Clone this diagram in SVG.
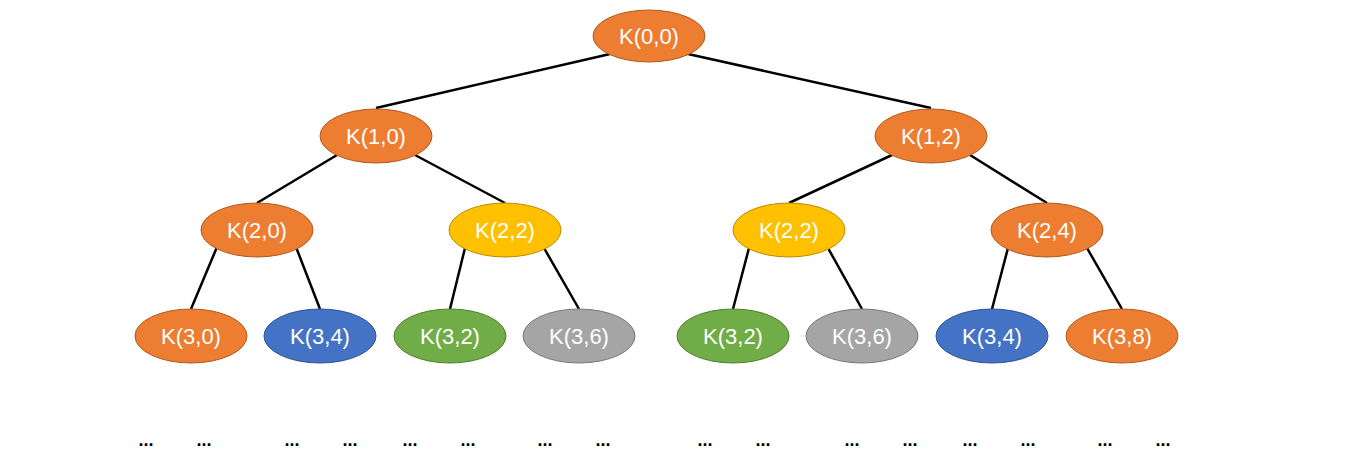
<svg xmlns="http://www.w3.org/2000/svg" width="1352" height="470" viewBox="0 0 1352 470">
<style>
.o{fill:#ED7D31;stroke:#AE5A21;stroke-width:1}
.y{fill:#FFC000;stroke:#BC8C00;stroke-width:1}
.b{fill:#4472C4;stroke:#2F528F;stroke-width:1}
.g{fill:#70AD47;stroke:#507E32;stroke-width:1}
.s{fill:#A5A5A5;stroke:#787878;stroke-width:1}
.t{fill:#fff;font-family:"Liberation Sans",Arial,sans-serif;font-size:22px;text-anchor:middle;dominant-baseline:central}
.d{fill:#000;font-family:"Liberation Sans",sans-serif;font-size:18px;font-weight:bold;text-anchor:middle}
#edges line{stroke:#000;stroke-width:2.5}
</style>
<rect width="1352" height="470" fill="#fff"/>
<g id="edges">
<line x1="610" y1="54" x2="376" y2="108"/>
<line x1="688" y1="54" x2="931" y2="108"/>
<line x1="337" y1="155" x2="257" y2="203"/>
<line x1="415" y1="155" x2="505" y2="203"/>
<line x1="892" y1="155" x2="789" y2="203"/>
<line x1="970" y1="155" x2="1047" y2="203"/>
<line x1="217" y1="247" x2="191" y2="309"/>
<line x1="296" y1="247" x2="320" y2="309"/>
<line x1="465" y1="248" x2="450" y2="309"/>
<line x1="544" y1="248" x2="579" y2="309"/>
<line x1="749" y1="248" x2="733" y2="309"/>
<line x1="828" y1="248" x2="862" y2="309"/>
<line x1="1008" y1="248" x2="992" y2="309"/>
<line x1="1087" y1="248" x2="1122" y2="309"/>
</g>
<g id="n00"><ellipse class="o" cx="649" cy="36" rx="56" ry="26"/><text class="t" x="649" y="36">K(0,0)</text></g>
<g id="n10"><ellipse class="o" cx="376" cy="136" rx="56" ry="27"/><text class="t" x="376" y="136">K(1,0)</text></g>
<g id="n12"><ellipse class="o" cx="931" cy="136" rx="56" ry="27"/><text class="t" x="931" y="136">K(1,2)</text></g>
<g id="n20"><ellipse class="o" cx="257" cy="230" rx="56" ry="27"/><text class="t" x="257" y="230">K(2,0)</text></g>
<g id="n22a"><ellipse class="y" cx="505" cy="230" rx="56" ry="27"/><text class="t" x="505" y="230">K(2,2)</text></g>
<g id="n22b"><ellipse class="y" cx="789" cy="230" rx="56" ry="27"/><text class="t" x="789" y="230">K(2,2)</text></g>
<g id="n24"><ellipse class="o" cx="1047" cy="230" rx="56" ry="27"/><text class="t" x="1047" y="230">K(2,4)</text></g>
<g id="n30"><ellipse class="o" cx="191" cy="336" rx="56" ry="27"/><text class="t" x="191" y="336">K(3,0)</text></g>
<g id="n34a"><ellipse class="b" cx="320" cy="336" rx="56" ry="27"/><text class="t" x="320" y="336">K(3,4)</text></g>
<g id="n32a"><ellipse class="g" cx="450" cy="336" rx="56" ry="27"/><text class="t" x="450" y="336">K(3,2)</text></g>
<g id="n36a"><ellipse class="s" cx="579" cy="336" rx="56" ry="27"/><text class="t" x="579" y="336">K(3,6)</text></g>
<g id="n32b"><ellipse class="g" cx="733" cy="336" rx="56" ry="27"/><text class="t" x="733" y="336">K(3,2)</text></g>
<g id="n36b"><ellipse class="s" cx="862" cy="336" rx="56" ry="27"/><text class="t" x="862" y="336">K(3,6)</text></g>
<g id="n34b"><ellipse class="b" cx="992" cy="336" rx="56" ry="27"/><text class="t" x="992" y="336">K(3,4)</text></g>
<g id="n38"><ellipse class="o" cx="1122" cy="336" rx="56" ry="27"/><text class="t" x="1122" y="336">K(3,8)</text></g>
<g id="dots">
<text class="d" x="146" y="446">...</text>
<text class="d" x="204" y="446">...</text>
<text class="d" x="292" y="446">...</text>
<text class="d" x="350" y="446">...</text>
<text class="d" x="410" y="446">...</text>
<text class="d" x="468" y="446">...</text>
<text class="d" x="545" y="446">...</text>
<text class="d" x="603" y="446">...</text>
<text class="d" x="705" y="446">...</text>
<text class="d" x="763" y="446">...</text>
<text class="d" x="852" y="446">...</text>
<text class="d" x="910" y="446">...</text>
<text class="d" x="970" y="446">...</text>
<text class="d" x="1028" y="446">...</text>
<text class="d" x="1105" y="446">...</text>
<text class="d" x="1163" y="446">...</text>
</g>
</svg>
